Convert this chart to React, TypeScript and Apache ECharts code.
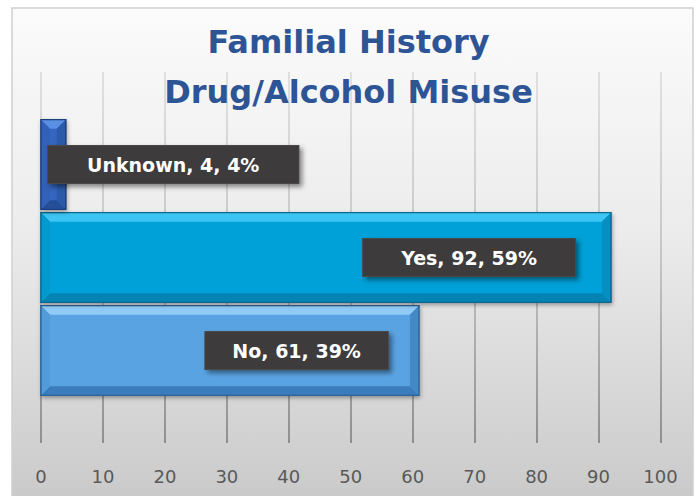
import React, { useEffect, useRef } from "react";
import * as echarts from "echarts";

const categories = ["No", "Yes", "Unknown"];
const counts = [61, 92, 4];
const percents = [39, 59, 4];
const xMin = 0;
const xMax = 100;
const xInterval = 10;
const titleLines = ["Familial History", "Drug/Alcohol Misuse"];

const palette: Record<string, any> = {
  No: { main: "#5aa3e2", top: "#90cbf6", bottom: "#3a7cbc", right: "#4588c8", left: "#529bd9", edge: "#2c6499" },
  Yes: { main: "#03a1d8", top: "#3cc4f2", bottom: "#0584b4", right: "#078fc1", left: "#0299cf", edge: "#0a6a90" },
  Unknown: { main: "#3465be", top: "#5a8fe4", bottom: "#244e98", right: "#2b5aa9", left: "#3161b8", edge: "#1d3f7e" },
};

const labelPlacement: Record<string, any> = {
  No: { position: "insideRight", distance: 31, padding: [8, 27] },
  Yes: { position: "insideRight", distance: 36, padding: [8, 38] },
  Unknown: { position: "insideLeft", distance: 7, padding: [8, 39] },
};

const BAR_RATIO = 0.965;

export default function App() {
  const ref = useRef<HTMLDivElement>(null);

  useEffect(() => {
    document.body.style.margin = "0";
    if (!ref.current) return;
    const chart = echarts.init(ref.current, null, { renderer: "svg" });

    const renderItem = (params: any, api: any) => {
      const i = params.dataIndex;
      const v = api.value(0);
      const s = api.coord([0, i]);
      const e = api.coord([v, i]);
      const h = api.size([0, 1])[1] * BAR_RATIO;
      const x0 = s[0];
      const x1 = e[0];
      const y0 = s[1] - h / 2;
      const y1 = s[1] + h / 2;
      const b = Math.min(9, (x1 - x0) / 2);
      const c = palette[categories[i]];
      return {
        type: "group",
        children: [
          {
            type: "rect",
            shape: { x: x0, y: y0, width: x1 - x0, height: h },
            style: { fill: c.main, stroke: c.edge, lineWidth: 1.2, shadowBlur: 4, shadowColor: "rgba(0,0,0,0.35)", shadowOffsetX: 1, shadowOffsetY: 2 },
          },
          {
            type: "polygon",
            shape: { points: [[x0, y0], [x1, y0], [x1 - b, y0 + b], [x0 + b, y0 + b]] },
            style: { fill: c.top },
          },
          {
            type: "polygon",
            shape: { points: [[x0, y1], [x1, y1], [x1 - b, y1 - b], [x0 + b, y1 - b]] },
            style: { fill: c.bottom },
          },
          {
            type: "polygon",
            shape: { points: [[x1, y0], [x1, y1], [x1 - b, y1 - b], [x1 - b, y0 + b]] },
            style: { fill: c.right },
          },
          {
            type: "polygon",
            shape: { points: [[x0, y0], [x0, y1], [x0 + b, y1 - b], [x0 + b, y0 + b]] },
            style: { fill: c.left },
          },
          {
            type: "rect",
            shape: { x: x0, y: y0, width: x1 - x0, height: h },
            style: { fill: "none", stroke: c.edge, lineWidth: 1.2 },
          },
        ],
      };
    };

    const gridLineColor = new echarts.graphic.LinearGradient(
      0, 72, 0, 443,
      [
        { offset: 0, color: "#dadada" },
        { offset: 0.5, color: "#bdbdbd" },
        { offset: 1, color: "#7e7e7e" },
      ],
      true
    );

    chart.setOption({
      animation: false,
      graphic: [
        {
          type: "rect",
          z: -10,
          shape: { x: 12, y: 8, width: 681, height: 490 },
          style: {
            fill: new echarts.graphic.LinearGradient(0, 0, 0, 1, [
              { offset: 0, color: "#fbfbfb" },
              { offset: 0.45, color: "#ececec" },
              { offset: 1, color: "#cacaca" },
            ]),
            stroke: "#cfcfcf",
            lineWidth: 1.5,
          },
        },
      ],
      title: {
        text: titleLines.join("\n"),
        left: "center",
        top: 12,
        textStyle: {
          fontFamily: "DejaVu Sans",
          fontWeight: "bold",
          fontSize: 32,
          lineHeight: 50,
          color: "#2d5596",
        },
      },
      grid: [
        { left: 41, right: 36.5, top: 72, bottom: 53 },
        { left: 41, right: 36.5, top: 118, bottom: 99 },
      ],
      xAxis: [
        {
          type: "value",
          gridIndex: 0,
          min: xMin,
          max: xMax,
          interval: xInterval,
          axisLine: { show: false },
          axisTick: { show: false },
          splitLine: { show: true, lineStyle: { color: gridLineColor, width: 1.6 } },
          axisLabel: { fontFamily: "DejaVu Sans", fontSize: 18, color: "#595959", margin: 24 },
        },
        {
          type: "value",
          gridIndex: 1,
          min: xMin,
          max: xMax,
          interval: xInterval,
          show: false,
        },
      ],
      yAxis: [
        { type: "value", gridIndex: 0, show: false, min: 0, max: 1 },
        { type: "category", gridIndex: 1, data: categories, show: false },
      ],
      series: [
        {
          type: "custom",
          xAxisIndex: 1,
          yAxisIndex: 1,
          z: 2,
          renderItem,
          encode: { x: 0, y: 1 },
          data: counts.map((v, i) => [v, i]),
        },
        {
          type: "bar",
          xAxisIndex: 1,
          yAxisIndex: 1,
          z: 5,
          barWidth: BAR_RATIO * 100 + "%",
          itemStyle: { color: "rgba(0,0,0,0)" },
          data: counts.map((v, i) => ({
            value: v,
            label: {
              show: true,
              position: labelPlacement[categories[i]].position,
              distance: labelPlacement[categories[i]].distance,
              padding: labelPlacement[categories[i]].padding,
              formatter: `${categories[i]}, ${v}, ${percents[i]}%`,
              fontFamily: "DejaVu Sans",
              fontWeight: "bold",
              fontSize: 19,
              lineHeight: 21,
              color: "#ffffff",
              backgroundColor: "#3d3b3b",
              borderColor: "#4a4848",
              borderWidth: 1,
              shadowColor: "rgba(0,0,0,0.45)",
              shadowBlur: 5,
              shadowOffsetX: 3,
              shadowOffsetY: 3,
            },
          })),
        },
      ],
    });

    return () => chart.dispose();
  }, []);

  return <div ref={ref} style={{ width: 697, height: 496, background: "#ffffff" }} />;
}
